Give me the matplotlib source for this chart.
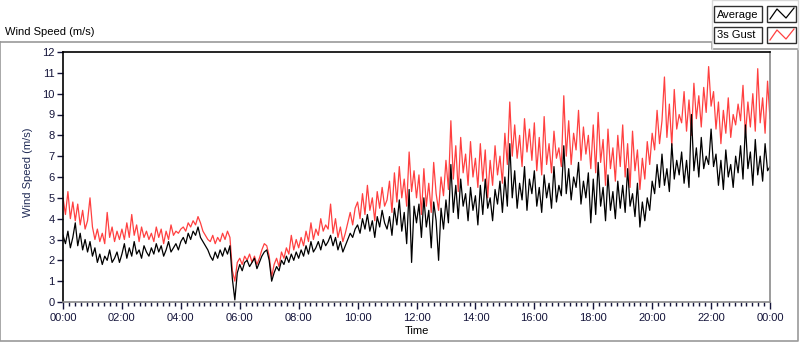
import numpy as np
import matplotlib
matplotlib.use("Agg")
import matplotlib.pyplot as plt
from matplotlib.patches import Rectangle
from matplotlib.ticker import MultipleLocator, FuncFormatter

plt.rcParams['font.family'] = ['Liberation Sans', 'DejaVu Sans']

# wind speed samples every 5 minutes, 00:00 -> 24:00 (m/s)
average = [
    3.2, 2.8, 3.4, 2.6, 3.1, 3.8, 2.7, 3.3, 2.5, 3.0, 2.4, 2.9,
    2.2, 2.6, 1.9, 2.3, 1.8, 2.2, 2.0, 2.5, 1.9, 2.1, 2.4, 1.9,
    2.3, 2.8, 2.1, 2.6, 2.2, 2.9, 2.3, 2.5, 2.1, 2.7, 2.4, 2.2,
    2.6, 2.3, 2.8, 2.4, 2.7, 2.2, 2.5, 2.9, 2.4, 2.6, 2.8, 2.5,
    2.9, 3.1, 2.8, 3.3, 3.0, 3.4, 3.2, 3.6, 3.1, 2.9, 2.7, 2.5,
    2.2, 2.0, 2.4, 2.1, 2.5, 2.2, 2.6, 2.3, 2.7, 1.1, 0.1, 1.4,
    1.8, 1.5, 1.9, 2.0, 1.7, 1.9, 2.1, 1.6, 1.9, 2.2, 2.4, 2.5,
    2.0, 1.0, 1.4, 1.7, 1.5, 2.0, 1.8, 2.2, 1.9, 2.3, 2.0, 2.4,
    2.1, 2.5, 2.2, 2.7, 2.3, 2.9, 2.4, 2.6, 2.9, 2.5, 3.0, 2.7,
    2.9, 3.2, 2.7, 3.1, 2.5, 2.9, 2.4, 2.7, 3.0, 3.3, 3.1, 3.5,
    3.7, 3.3, 4.0, 3.5, 4.2, 3.4, 3.9, 3.1, 4.1, 3.6, 4.4, 3.8,
    3.5, 4.1, 3.2, 4.5, 3.7, 4.9, 3.4, 4.3, 2.8, 5.4, 1.9, 4.6,
    3.8, 4.7, 3.1, 5.0, 3.6, 4.4, 2.6, 4.8, 3.9, 2.0, 4.5, 3.5,
    4.9, 3.8, 6.6, 4.3, 5.6, 4.0, 5.9, 4.6, 5.2, 3.9, 5.5, 4.4,
    5.1, 3.7, 5.6, 4.2, 5.9, 4.5, 5.0, 3.9, 5.4, 4.7, 5.8, 4.3,
    6.0, 4.6, 7.6, 5.0, 6.3, 4.5, 5.7, 4.9, 6.5, 4.4, 5.9, 5.2,
    6.3, 4.6, 5.5, 4.3, 6.1, 5.0, 5.7, 4.5, 6.5, 4.8, 5.6, 5.1,
    7.5, 5.2, 6.4, 4.9, 6.0, 5.5, 6.7, 4.7, 5.8, 5.0, 6.2, 3.8,
    5.9, 4.2, 6.7, 4.6, 5.5, 3.9, 6.1, 4.4, 5.3, 4.0, 5.8, 4.5,
    5.6, 4.3, 6.4, 4.6, 5.2, 4.1, 5.7, 3.6, 4.8, 3.9, 5.0, 4.4,
    5.8, 5.2, 6.6, 5.5, 7.1, 5.6, 6.4, 5.3, 7.6, 5.9, 6.8, 6.1,
    7.2, 5.7, 6.8, 5.5, 9.0, 6.3, 7.4, 6.0, 7.9, 6.4, 7.0, 6.6,
    8.3, 6.5, 7.1, 5.6, 6.8, 5.4, 7.3, 6.0, 6.6, 5.5, 7.0, 6.2,
    7.5, 5.9, 8.5, 6.4, 7.2, 5.6, 7.8, 6.1, 7.0, 5.8, 7.6, 6.3,
    6.5,
]

gust = [
    5.0, 4.2, 5.3, 4.0, 4.8, 3.9, 4.7, 3.7, 4.4, 3.5, 3.9, 5.0,
    3.6, 3.0, 3.5, 2.9, 3.3, 2.8, 4.3, 3.1, 3.6, 2.9, 3.4, 3.0,
    3.5, 3.0, 3.8, 3.1, 4.2, 3.2, 3.7, 2.9, 3.6, 3.1, 3.4, 3.0,
    3.3, 2.9, 3.6, 3.1, 3.5, 2.8, 3.4, 3.0, 3.7, 3.2, 3.4, 3.3,
    3.5, 3.6, 3.4, 3.8, 3.6, 3.9, 3.7, 4.1, 3.8, 3.4, 3.2, 3.0,
    2.9, 3.2, 2.8, 3.1, 2.9, 3.3, 3.0, 3.4, 3.1, 1.5, 1.0, 1.9,
    2.1, 1.8, 2.2, 2.0, 2.3, 1.9, 2.2, 1.8, 2.1, 2.5, 2.8, 2.7,
    2.2, 1.2, 1.8, 2.1, 1.7, 2.4, 2.1, 2.6, 2.3, 3.2, 2.5, 3.0,
    2.6, 3.1, 2.7, 3.4, 2.9, 3.8, 3.0, 3.5, 3.2, 4.0, 3.4, 3.7,
    3.5, 4.7, 3.3, 4.0, 3.1, 3.6, 2.9, 3.3, 3.8, 4.3, 3.7, 4.5,
    4.8, 4.0, 5.2, 4.2, 5.6, 4.4, 5.0, 3.9, 5.3, 4.5, 5.5, 4.6,
    4.9, 5.8, 4.3, 6.2, 4.8, 6.5, 5.0, 5.9, 4.6, 7.2, 5.3, 6.3,
    5.0, 6.1, 4.2, 6.4, 4.6, 5.7, 4.3, 6.7, 5.2, 4.4, 6.0, 5.1,
    6.8, 5.4, 8.7, 5.9, 7.5, 5.3, 7.9, 6.2, 7.1, 5.6, 7.7, 6.0,
    6.9, 5.5, 7.6, 5.8, 7.3, 5.0, 6.8, 5.6, 7.5, 6.1, 7.0, 5.7,
    8.1, 6.6, 9.6, 7.0, 8.5, 6.9, 8.0, 6.5, 8.8, 7.2, 8.3, 6.8,
    8.6, 6.3, 7.9, 6.1, 8.9, 6.6, 7.6, 6.2, 8.2, 6.9, 7.4, 6.5,
    9.9, 7.0, 8.7, 6.6, 8.1, 7.3, 9.2, 6.8, 8.4, 7.1, 8.0, 6.4,
    8.5, 6.2, 9.1, 6.7, 7.8, 5.6, 8.3, 6.4, 7.4, 5.8, 8.0, 6.5,
    8.5, 6.0, 7.6, 5.5, 8.2, 6.3, 7.3, 5.4, 6.9, 5.9, 7.7, 6.6,
    8.1, 7.3, 9.2, 7.6, 8.7, 10.8, 7.9, 9.5, 7.5, 10.2, 8.3, 9.0,
    8.6, 10.1, 8.2, 9.7, 8.0, 10.5, 8.8, 9.9, 8.4, 10.3, 9.1, 11.3,
    9.4, 10.1, 8.3, 9.6, 7.6, 9.2, 8.1, 9.8, 7.9, 9.0, 8.5, 9.5,
    8.7, 10.4, 8.0, 9.6, 8.4, 10.0, 8.2, 11.2, 8.6, 9.8, 8.1, 10.6,
    8.8,
]

series_names = ["Average", "3s Gust"]
series_colors = ["black", "#ff4040"]

# sample times in hours
hours = np.arange(len(average)) * 5 / 60

W, H = 800, 342
fig = plt.figure(figsize=(W / 100, H / 100), dpi=100)

# plot area in pixels: x 63..770, y 52..302
ax = fig.add_axes([63 / W, (H - 302) / H, (770 - 63) / W, (302 - 52) / H])
ax.plot(hours, gust, color=series_colors[1], lw=0.9)
ax.plot(hours, average, color=series_colors[0], lw=0.9)

ax.set_xlim(0, 24)
ax.set_ylim(0, 12)
ax.yaxis.set_major_locator(MultipleLocator(1))
ax.xaxis.set_major_locator(MultipleLocator(2))
ax.xaxis.set_minor_locator(MultipleLocator(0.2))
ax.xaxis.set_major_formatter(FuncFormatter(lambda v, p: "%02d:00" % (int(round(v)) % 24)))

txt = '#14143a'
ax.tick_params(axis='both', labelsize=8, colors=txt, width=1)
ax.tick_params(axis='y', length=4, pad=2)
ax.tick_params(axis='x', which='major', length=5, pad=3)
ax.tick_params(axis='x', which='minor', length=3, width=1, color=txt)

for side in ['top', 'left']:
    ax.spines[side].set_color('black')
for side in ['right', 'bottom']:
    ax.spines[side].set_color('#8a8a8a')
for s in ax.spines.values():
    s.set_linewidth(1.2)

ax.set_xlabel("Time", fontsize=8, color='black')
ax.xaxis.set_label_coords(0.5, -0.095)
ax.set_ylabel("Wind Speed (m/s)", fontsize=8, color='#1f2a55')
ax.yaxis.set_label_coords(-0.043, 0.52)

# frame, title and legend drawn in pixel coordinates
ov = fig.add_axes([0, 0, 1, 1], zorder=-1)
ov.set_xlim(0, W)
ov.set_ylim(H, 0)
ov.axis('off')
ov.plot([0, 712, 712, 798, 798, 0, 0], [42, 42, 49, 49, 341, 341, 42],
        color='#9a9a9a', lw=1.2)
ov.plot([712, 712, 798, 798], [49, 0, 0, 49], color='#d8d8d8', lw=1)
ov.text(5, 32, "Wind Speed (m/s)", fontsize=8, color='black', va='center', ha='left')

ov2 = fig.add_axes([0, 0, 1, 1], zorder=5)
ov2.set_xlim(0, W)
ov2.set_ylim(H, 0)
ov2.axis('off')
ov2.patch.set_alpha(0)
for i, (name, col) in enumerate(zip(series_names, series_colors)):
    y0 = 6 + i * 21
    ov2.add_patch(Rectangle((714, y0), 48, 16, fc='white', ec='#303030', lw=1))
    ov2.text(717, y0 + 8.5, name, fontsize=8, color='black', va='center', ha='left')
    ov2.add_patch(Rectangle((767, y0), 29, 16, fc='white', ec='#303030', lw=1))
    ov2.plot([770, 777, 786, 794], [y0 + 13, y0 + 3, y0 + 12, y0 + 2], color=col, lw=0.9)

fig.savefig("out.png", dpi=100)
